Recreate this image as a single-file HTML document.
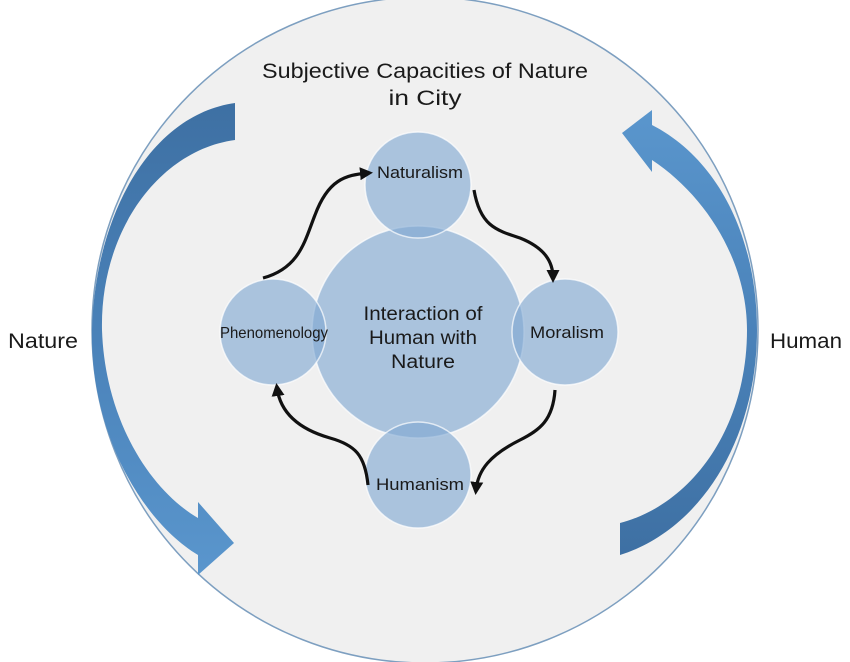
<!DOCTYPE html>
<html><head><meta charset="utf-8"><style>
html,body{margin:0;padding:0;background:#fff;}
svg{display:block;font-family:"Liberation Sans",Arial,sans-serif;}
</style></head><body>
<svg width="850" height="662" viewBox="0 0 850 662">
<defs>
<linearGradient id="g" x1="0" y1="0" x2="0" y2="1">
<stop offset="0" stop-color="#3e70a3"/><stop offset="0.5" stop-color="#4a82b9"/><stop offset="1" stop-color="#5a96cd"/>
</linearGradient>
<linearGradient id="g2" x1="0" y1="0" x2="0" y2="1">
<stop offset="0" stop-color="#5a96cd"/><stop offset="0.5" stop-color="#4a82b9"/><stop offset="1" stop-color="#3e70a3"/>
</linearGradient>
<marker id="ah" markerWidth="13" markerHeight="13" refX="8" refY="6.5" orient="auto" markerUnits="userSpaceOnUse" viewBox="0 0 13 13">
<path d="M0,0 L13,6.5 L0,13 Z" fill="#111"/>
</marker>
</defs>
<rect width="850" height="662" fill="#fff"/>
<circle cx="425" cy="330" r="333" fill="#f0f0f0" stroke="#7d9fc0" stroke-width="1.5"/>
<path d="M235,103 C150,115 95,215 92,330 C90,430 140,520 198,555 L198,575 L234,543 L198,502 L198,518 C150,490 105,420 102,330 C100,230 160,150 235,140 Z" fill="url(#g)"/>
<path d="M620,555 C700,530 757,440 757,330 C757,240 720,160 652,125 L652,110 L622,133 L652,172 L652,160 C705,195 747,260 747,330 C747,430 690,505 620,523 Z" fill="url(#g2)"/>
<g fill="#7fa8d2" fill-opacity="0.62" stroke="#ffffff" stroke-width="1.5" stroke-opacity="0.7">
<circle cx="418" cy="332" r="106"/>
<circle cx="418" cy="185" r="53"/>
<circle cx="565" cy="332" r="53"/>
<circle cx="273" cy="332" r="53"/>
<circle cx="418" cy="475" r="53"/>
</g>
<g fill="none" stroke="#111" stroke-width="3.2" marker-end="url(#ah)">
<path d="M263,278 C300,268 305,240 315,215 C328,180 345,175 368,173"/>
<path d="M474,190 C480,225 495,230 520,238 C545,248 553,262 553,278"/>
<path d="M555,390 C553,420 540,430 520,440 C490,455 478,470 476,490"/>
<path d="M368,485 C365,455 355,445 330,438 C295,428 280,410 277,388"/>
</g>
<g fill="#1a1a1a" text-anchor="middle">
<text x="425" y="78" font-size="21" textLength="326" lengthAdjust="spacingAndGlyphs">Subjective Capacities of Nature</text>
<text x="425" y="105" font-size="21" textLength="73" lengthAdjust="spacingAndGlyphs">in City</text>
<text x="420" y="178" font-size="17" textLength="86" lengthAdjust="spacingAndGlyphs">Naturalism</text>
<text x="567" y="338" font-size="17" textLength="74" lengthAdjust="spacingAndGlyphs">Moralism</text>
<text x="274" y="338" font-size="16" textLength="108" lengthAdjust="spacingAndGlyphs">Phenomenology</text>
<text x="420" y="490" font-size="17" textLength="88" lengthAdjust="spacingAndGlyphs">Humanism</text>
<text x="423" y="320" font-size="19" textLength="119" lengthAdjust="spacingAndGlyphs">Interaction of</text>
<text x="423" y="344" font-size="19" textLength="108" lengthAdjust="spacingAndGlyphs">Human with</text>
<text x="423" y="368" font-size="19" textLength="64" lengthAdjust="spacingAndGlyphs">Nature</text>
<text x="43" y="348" font-size="21" textLength="70" lengthAdjust="spacingAndGlyphs">Nature</text>
<text x="806" y="348" font-size="21" textLength="72" lengthAdjust="spacingAndGlyphs">Human</text>
</g>
</svg>
</body></html>
